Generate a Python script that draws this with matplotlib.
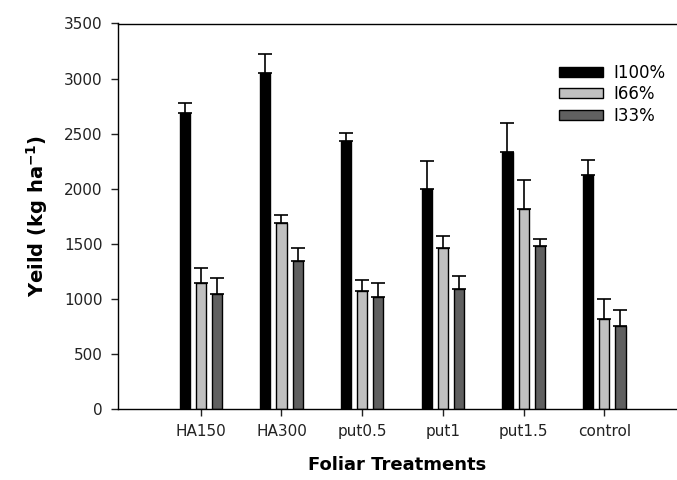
import numpy as np
import matplotlib.pyplot as plt

plt.rcParams["font.family"] = ["DejaVu Sans"]

treatments = ["HA150", "HA300", "put0.5", "put1", "put1.5", "control"]
series_names = ["I100%", "I66%", "I33%"]

yield_i100 = [2690, 3050, 2430, 2000, 2335, 2125]
yield_i66 = [1140, 1685, 1075, 1465, 1820, 815]
yield_i33 = [1045, 1340, 1020, 1090, 1480, 750]

err_i100 = [85, 175, 80, 250, 260, 135]
err_i66 = [140, 80, 95, 105, 260, 180]
err_i33 = [145, 120, 120, 120, 65, 150]

colors = ["#000000", "#c0c0c0", "#606060"]


def main():
    fig = plt.figure(figsize=(6.77, 4.8), dpi=100)
    ax = fig.add_axes([118 / 677, 71 / 480, 559 / 677, 385.5 / 480])

    x = np.arange(len(treatments))
    offsets = [-0.2, 0.0, 0.2]
    values = [yield_i100, yield_i66, yield_i33]
    errors = [err_i100, err_i66, err_i33]

    for off, vals, errs, col, name in zip(offsets, values, errors, colors, series_names):
        ax.bar(x + off, vals, width=0.125, color=col, edgecolor="black",
               linewidth=1.0, label=name, zorder=2)
        ax.errorbar(x + off, vals, yerr=[np.zeros(len(errs)), errs], fmt="none",
                    ecolor="black", elinewidth=1.2, capsize=5, capthick=1.2, zorder=3)

    ax.set_xlim(-1.025, 5.9)
    ax.set_ylim(0, 3500)
    ax.set_yticks(np.arange(0, 3501, 500))
    ax.set_xticks(x)
    ax.set_xticklabels(treatments)
    ax.tick_params(direction="out", length=5, width=1, labelsize=11, pad=6, colors="#222222")
    ax.spines["right"].set_visible(False)
    for s in ["left", "bottom", "top"]:
        ax.spines[s].set_linewidth(1.0)

    ax.set_xlabel("Foliar Treatments", fontsize=13, fontweight="bold", labelpad=12)
    ax.set_ylabel("Yeild (kg ha$^{\\mathbf{-1}}$)", fontsize=14, fontweight="bold", labelpad=10)

    fig.legend(loc="upper left", bbox_to_anchor=(559 / 677, 1 - 64 / 480),
               frameon=False, fontsize=12, handlelength=2.63, handleheight=0.55,
               borderpad=0, borderaxespad=0, labelspacing=0.2, handletextpad=0.66)

    fig.savefig("out.png", dpi=100)


if __name__ == "__main__":
    main()
